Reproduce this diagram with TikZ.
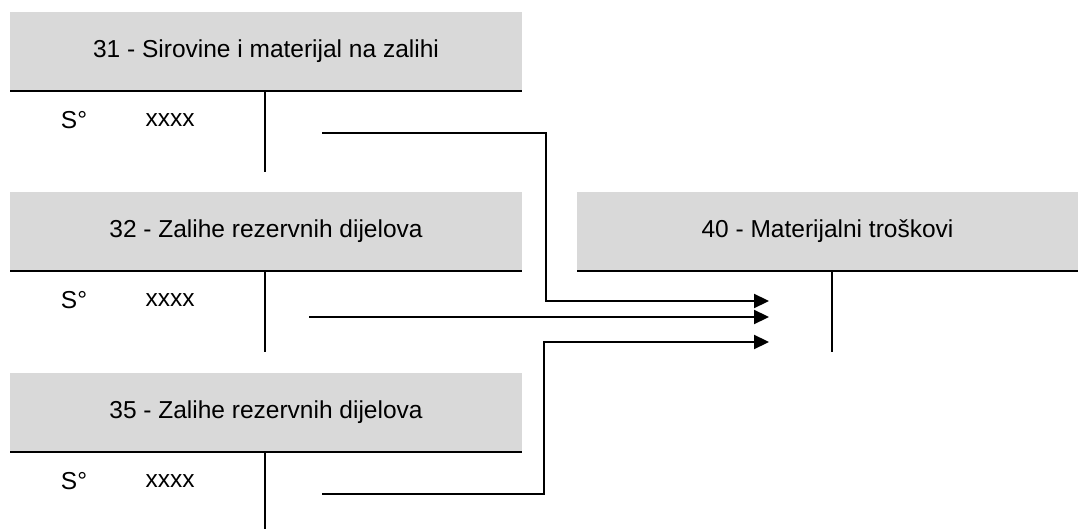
\documentclass[tikz,border=0pt]{standalone}
\usepackage{fontspec}
\setmainfont{Liberation Sans}
\usetikzlibrary{arrows.meta}
\definecolor{sivo}{HTML}{D9D9D9}
\tikzset{konto/.style={
    fill=sivo, minimum height=79pt, inner sep=0pt, outer sep=0pt,
    font=\fontsize{24.5}{28}\selectfont
  },
  linija/.style={line width=2.2pt},
  strelica/.style={line width=2.2pt, -{Triangle[length=15pt,width=14pt]}},
  stavka/.style={font=\fontsize{24.5}{28}\selectfont, inner sep=0pt}
}

\begin{document}
\begin{tikzpicture}[x=1pt,y=-1pt]
    \useasboundingbox (0,0) rectangle (1078,529);

    \node[konto, minimum width=512pt] (k31) at (266,51.5) {31 - Sirovine i materijal na zalihi};
    \node[konto, minimum width=512pt] (k32) at (266,231.5) {32 - Zalihe rezervnih dijelova};
    \node[konto, minimum width=512pt] (k35) at (266,412.5) {35 - Zalihe rezervnih dijelova};
    \node[konto, minimum width=501pt] (k40) at (827.5,231.5) {40 - Materijalni troškovi};

    \foreach \k in {31,32,35,40} {
      \draw[linija] (k\k.south west) -- (k\k.south east);
      \draw[linija] (k\k.south west) ++(255,0) -- ++(0,81);
    }
    \foreach \k in {31,32,35} {
      \node[stavka] (s\k) at ([shift={(64,29)}]k\k.south west) {S°};
      \node[stavka] (x\k) at ([shift={(160,29)}]k\k.south west) {xxxx};
    }

    \coordinate (p31) at (322,133);
    \coordinate (p32) at (309,317);
    \coordinate (p35) at (322,494);
    \coordinate (u1) at (769,301);
    \coordinate (u2) at (769,317);
    \coordinate (u3) at (769,342);

    \draw[strelica] (p31) -- ++(224,0) |- (u1);
    \draw[strelica] (p32) -- (u2);
    \draw[strelica] (p35) -- ++(222,0) |- (u3);
\end{tikzpicture}
\end{document}
